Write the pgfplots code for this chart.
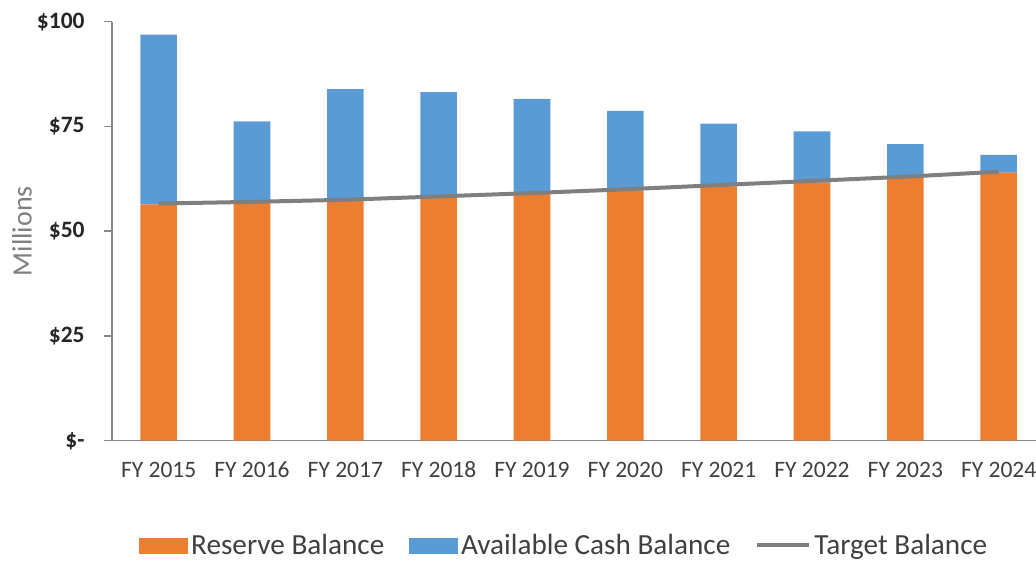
\documentclass[border=0pt]{standalone}
\usepackage{fontspec}
\setmainfont{Carlito}
\usepackage{pgfplots}
\pgfplotsset{compat=1.18}
\definecolor{orng}{HTML}{ED7D31}
\definecolor{blu}{HTML}{5B9BD5}
\definecolor{gry}{HTML}{7F7F7F}
\definecolor{axl}{HTML}{868686}
\definecolor{txt}{HTML}{404040}
\begin{document}
\begin{tikzpicture}
\pgfplotsset{commonax/.style={
  scale only axis, width=462pt, height=209.5pt,
  xmin=-0.5, xmax=9.4, ymin=0, ymax=100,
}}
\begin{axis}[name=ax, commonax,
  ybar stacked, bar width=18.3pt,
  axis lines*=left,
  axis line style={axl, line width=0.7pt, -},
  xtick={0,...,9},
  xticklabels={FY 2015,FY 2016,FY 2017,FY 2018,FY 2019,FY 2020,FY 2021,FY 2022,FY 2023,FY 2024},
  x tick style={draw=none},
  xticklabel style={font=\fontsize{11.75}{14}\selectfont, text=txt, inner sep=0pt, anchor=base, yshift=-14.5pt},
  ytick={0,25,50,75,100},
  yticklabels={\$-,\$25,\$50,\$75,\$100},
  tick align=outside,
  major tick length=4pt,
  y tick style={axl, line width=0.7pt},
  yticklabel style={font=\fontsize{11.75}{14}\selectfont\bfseries, text=black!85, inner sep=0pt, anchor=east, xshift=-9.5pt},
  every axis y label/.style={at={(rel axis cs:0,0.5)}, xshift=-45pt, rotate=90, anchor=center,
    font=\fontsize{14}{16}\selectfont, text=gry},
  ylabel={Millions},
]
\addplot[fill=orng, draw=none] coordinates {(0,56.4) (1,56.8) (2,57.3) (3,58.0) (4,58.9) (5,59.7) (6,60.7) (7,61.6) (8,62.8) (9,64.0)};
\addplot[fill=blu, draw=none] coordinates {(0,40.5) (1,19.4) (2,26.6) (3,25.2) (4,22.7) (5,19.0) (6,15.0) (7,12.2) (8,8.0) (9,4.2)};
\end{axis}
\begin{axis}[commonax, hide axis,
  legend columns=3,
  legend style={at={(0.49,-0.25)}, anchor=center, draw=none, fill=none,
    font=\fontsize{14.6}{17}\selectfont, text=txt,
    nodes={inner xsep=1.5pt, inner ysep=1pt},
    /tikz/every even column/.append style={column sep=11pt}},
]
\addlegendimage{legend image code/.code={\fill[orng] (0pt,-3.75pt) rectangle (24pt,3.75pt);}}
\addlegendentry{Reserve Balance}
\addlegendimage{legend image code/.code={\fill[blu] (0pt,-3.75pt) rectangle (24pt,3.75pt);}}
\addlegendentry{Available Cash Balance}
\addplot[gry, line width=2pt, mark=none,
  legend image code/.code={\draw[gry, line width=2pt] (0pt,0pt) -- (26pt,0pt);}]
  coordinates {(0,56.6) (1,57.0) (2,57.5) (3,58.3) (4,59.1) (5,60.0) (6,61.0) (7,62.0) (8,63.0) (9,64.2)};
\addlegendentry{Target Balance}
\end{axis}
\pgfresetboundingbox
\path[use as bounding box] (ax.south west) ++(-56pt,-60.15pt) rectangle ++(518pt,280.5pt);
\end{tikzpicture}
\end{document}
